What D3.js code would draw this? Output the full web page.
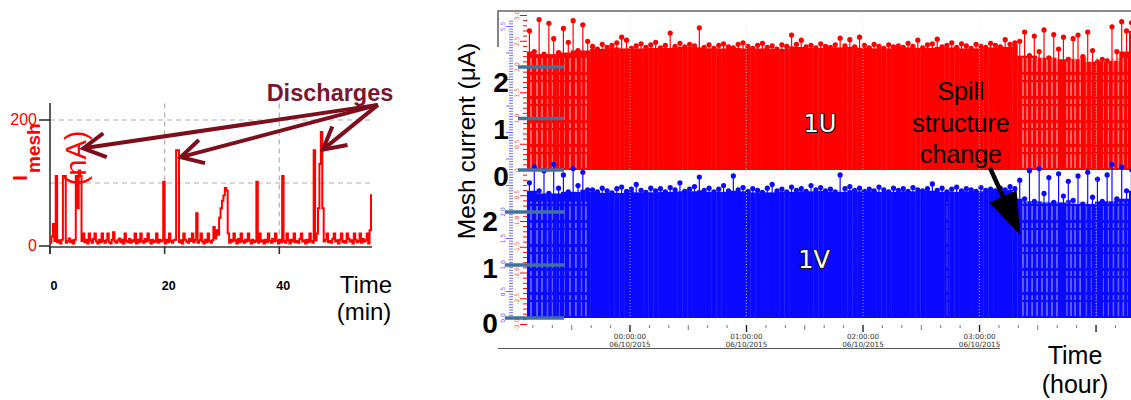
<!DOCTYPE html>
<html><head><meta charset="utf-8">
<script src="https://cdn.jsdelivr.net/npm/d3@7"></script>
<style>
body{margin:0;background:#fff;}
svg{display:block;font-family:"Liberation Sans",Arial,sans-serif;}
</style>
</head><body>
<svg id="c" width="1131" height="400"></svg>
<script>
// ---------------- DATA ----------------
// Left panel: mesh current (nA) sampled every 0.25 min, 0..56 min
const leftStepMin = 0.25;
const leftCurrent = [
  5,15,35,8,111,6,9,4,10,111,111,5,8,12,6,9,4,10,111,60,
  120,111,8,20,6,10,4,20,9,5,11,20,7,4,10,6,20,8,5,9,
  20,6,4,10,22,7,5,9,12,6,10,4,20,8,6,11,5,9,7,20,
  4,10,6,20,8,5,11,7,20,9,4,10,6,8,20,5,10,7,9,102,
  4,10,6,20,8,5,9,10,152,152,6,9,4,20,10,7,5,11,8,20,
  6,10,52,5,9,20,7,4,10,6,20,8,5,9,30,12,25,18,45,60,
  72,80,92,88,20,5,10,7,20,9,4,11,6,20,8,5,10,7,20,9,
  4,10,6,8,102,5,20,7,9,4,10,6,20,8,5,11,7,20,9,4,
  10,6,111,8,5,20,9,4,10,7,20,6,8,5,11,20,7,9,4,10,
  6,20,8,5,152,9,20,60,130,181,60,7,10,20,6,8,5,11,20,7,
  9,4,10,20,6,8,5,20,11,7,9,4,20,10,6,8,20,5,11,7,
  9,20,4,25,82
];
const leftXTicks = [0, 20, 40];
const leftYTicks = [0, 200];
const leftGridY = [100, 200];
const leftGridX = [20, 40];
// discharge arrows: [tipTime(min), tipValue(nA)]
const dischargeTips = [[5.8, 155], [22.8, 141], [47.6, 153]];
const dischargeFrom = [57.2, 224];

// Right panel: mesh currents (µA), one sample every 2.5 min starting 23:07 (−0.884 h)
const rightStartHour = -0.884;
const rightStepMin = 2.5;
const mesh1U = [
  2.70,2.30,2.92,2.25,2.85,2.55,2.28,2.75,2.48,2.90,2.32,2.82,2.50,
  2.40,2.35,2.44,2.38,2.42,2.47,2.58,2.52,2.36,2.41,2.45,2.38,2.43,2.48,2.37,2.42,
  2.66,2.40,2.46,2.39,2.44,2.41,2.76,2.38,2.43,2.36,2.42,2.45,2.39,2.37,2.44,2.47,
  2.40,2.36,2.42,2.46,2.38,2.41,2.35,2.43,2.40,2.62,2.44,2.52,2.39,2.42,2.37,2.45,
  2.40,2.38,2.43,2.56,2.41,2.53,2.39,2.58,2.42,2.37,2.44,2.40,2.36,2.43,2.39,2.41,
  2.38,2.46,2.40,2.52,2.37,2.43,2.45,2.54,2.39,2.42,2.47,2.38,2.45,2.41,2.36,2.44,
  2.40,2.38,2.46,2.42,2.39,2.53,2.44,2.47,
  2.50,2.68,2.22,2.60,2.30,2.72,2.18,2.63,2.35,2.58,2.15,2.55,2.62,2.20,2.68,2.32,
  2.10,2.15,2.12,2.78,2.30,2.88,2.70,2.86
];
const mesh1V = [
  2.55,2.85,2.40,2.78,2.35,2.90,2.45,2.70,2.38,2.82,2.50,2.75,2.42,
  2.42,2.38,2.45,2.40,2.36,2.44,2.47,2.39,2.43,2.52,2.41,2.37,2.45,2.40,2.44,2.38,
  2.46,2.42,2.55,2.39,2.43,2.48,2.66,2.41,2.45,2.38,2.43,2.50,2.40,2.68,2.42,2.46,
  2.39,2.44,2.41,2.37,2.45,2.52,2.40,2.43,2.38,2.47,2.41,2.44,2.39,2.50,2.42,2.46,
  2.40,2.43,2.38,2.70,2.44,2.48,2.41,2.45,2.39,2.43,2.40,2.47,2.42,2.38,2.45,2.41,
  2.44,2.39,2.46,2.42,2.40,2.44,2.53,2.41,2.45,2.38,2.43,2.47,2.40,2.44,2.42,2.39,
  2.46,2.41,2.43,2.40,2.45,2.42,2.48,2.44,
  2.60,2.25,2.78,2.20,2.82,2.35,2.65,2.18,2.72,2.30,2.58,2.22,2.68,2.15,2.75,2.28,
  2.62,2.20,2.70,2.90,2.25,2.85,2.40,2.80
];
// spill gaps (hours) seen as light stripes
const gapHours = [
  -0.850,-0.798,-0.755,-0.704,-0.661,-0.609,-0.567,-0.515,-0.464,-0.412,-0.378,
  3.373,3.408,3.451,3.494,3.536,3.579,3.622,3.665,3.751,3.785,3.820,3.863,
  3.923,3.966,4.009,4.060,4.103,4.146,4.189,4.232,4.266
];
const gapHours1V = [2.721];
const hourTicks = [0, 1, 2, 3];
const hourTickLabels = ["00:00:00", "01:00:00", "02:00:00", "03:00:00"];
const dateLabel = "06/10/2015";
const gridHours = [0, 1, 2, 3, 4];
const redAxisLabels = [3.0, 2.5, 2.0, 1.5, 1.0, 0.5, 0, -0.5, -1.0, -1.5, -2.0, -2.5, -3.0];
const blueAxisLabels = [5.5, 2.0, 1.5, 1.0, 0.5, 0.0];
const bigTicks = [2, 1, 0];
const bigTicksBaselineU = [92, 139, 186];
const bigTicksBaselineV = [231, 278, 333];

// ---------------- DRAW ----------------
const svg = d3.select("#c");
const RED = "#ff0000", BLUE = "#0a0aff", MAROON = "#7d0f1c";

// ===== Left panel =====
const xL = d3.scaleLinear().domain([0, 56]).range([50, 371]);
const yL = d3.scaleLinear().domain([0, 200]).range([246, 120]);
const L = svg.append("g");

// grid
L.selectAll(".gy").data(leftGridY).join("line")
  .attr("x1", xL(0)).attr("x2", xL(56)).attr("y1", d => yL(d)).attr("y2", d => yL(d))
  .attr("stroke", "#b0b0b0").attr("stroke-width", 1.2).attr("stroke-dasharray", "5,4");
L.selectAll(".gx").data(leftGridX).join("line")
  .attr("x1", d => xL(d)).attr("x2", d => xL(d)).attr("y1", yL(226)).attr("y2", yL(0))
  .attr("stroke", "#b0b0b0").attr("stroke-width", 1.2).attr("stroke-dasharray", "5,4");

// axes lines
L.append("line").attr("x1", xL(0)).attr("x2", xL(0)).attr("y1", yL(227)).attr("y2", 254)
  .attr("stroke", "#333").attr("stroke-width", 1.6);
L.append("line").attr("x1", xL(0) - 1).attr("x2", xL(56) + 1).attr("y1", yL(0) + 1).attr("y2", yL(0) + 1)
  .attr("stroke", "#333").attr("stroke-width", 1.6);
L.selectAll(".ty").data(leftYTicks).join("line")
  .attr("x1", xL(0) - 11).attr("x2", xL(0)).attr("y1", d => yL(d)).attr("y2", d => yL(d))
  .attr("stroke", "#333").attr("stroke-width", 1.6);
L.selectAll(".tx").data(leftXTicks).join("line")
  .attr("x1", d => xL(d)).attr("x2", d => xL(d)).attr("y1", yL(0)).attr("y2", yL(0) + 8)
  .attr("stroke", "#333").attr("stroke-width", 1.6);

// data line
const lineL = d3.line().x((d, i) => xL(i * leftStepMin)).y(d => yL(d)).curve(d3.curveStepAfter);
L.append("path").datum(leftCurrent).attr("d", lineL)
  .attr("fill", "none").attr("stroke", RED).attr("stroke-width", 2);

// tick labels
L.selectAll(".xl").data(leftXTicks).join("text")
  .attr("x", d => xL(d) + 4).attr("y", 290).attr("text-anchor", "middle")
  .attr("font-size", 12.5).attr("font-weight", "bold").attr("fill", "#000").text(d => d);
L.selectAll(".yl").data(leftYTicks).join("text")
  .attr("x", 37).attr("y", d => yL(d) + 5).attr("text-anchor", "end")
  .attr("font-size", 16).attr("fill", RED).text(d => d);

// y label I_mesh (nA)
L.append("text").attr("transform", "translate(27,181) rotate(-90)")
  .attr("font-size", 21).attr("font-weight", "bold").attr("fill", RED).text("I");
L.append("text").attr("transform", "translate(40,173) rotate(-90)")
  .attr("font-size", 19).attr("font-weight", "bold").attr("fill", RED).text("mesh");
L.append("text").attr("transform", "translate(86,158) rotate(-90)")
  .attr("text-anchor", "middle").attr("font-size", 29).attr("fill", RED).text("(nA)");

// Time (min)
L.append("text").attr("x", 366).attr("y", 293).attr("text-anchor", "middle")
  .attr("font-size", 24).attr("fill", "#000").text("Time");
L.append("text").attr("x", 364).attr("y", 320).attr("text-anchor", "middle")
  .attr("font-size", 24).attr("fill", "#000").text("(min)");

// Discharges
L.append("text").attr("x", 330).attr("y", 101).attr("text-anchor", "middle")
  .attr("font-size", 23.5).attr("font-weight", "bold").attr("fill", "#7a1730").text("Discharges");
const defs = svg.append("defs");
defs.append("marker").attr("id", "chev").attr("markerUnits", "userSpaceOnUse")
  .attr("viewBox", "-26 -14 30 28").attr("refX", 0).attr("refY", 0)
  .attr("markerWidth", 30).attr("markerHeight", 28).attr("orient", "auto")
  .append("path").attr("d", "M-22,-12 L0,0 L-22,12").attr("fill", "none")
  .attr("stroke", MAROON).attr("stroke-width", 4).attr("stroke-linejoin", "miter");
L.selectAll(".arr").data(dischargeTips).join("line")
  .attr("x1", xL(dischargeFrom[0])).attr("y1", yL(dischargeFrom[1]))
  .attr("x2", d => xL(d[0])).attr("y2", d => yL(d[1]))
  .attr("stroke", MAROON).attr("stroke-width", 4).attr("marker-end", "url(#chev)");

// ===== Right panel =====
const xR = d3.scaleLinear().domain([rightStartHour, 4.3]).range([527, 1131]);
const yU = d3.scaleLinear().domain([0, 2]).range([170, 67]);
const yV = d3.scaleLinear().domain([0, 2]).range([318, 212]);
const stepH = rightStepMin / 60;
const R = svg.append("g");
R.append("clipPath").attr("id", "rc").append("rect")
  .attr("x", 527).attr("y", 0).attr("width", 604).attr("height", 330);

// frame (top + left stub)
R.append("path").attr("d", "M498,47 L498,11 L1131,11").attr("fill", "none")
  .attr("stroke", "#666").attr("stroke-width", 1.6);

function drawSeries(values, yS, color, light, gaps) {
  const g = R.append("g").attr("clip-path", "url(#rc)");
  const pts = values.map((v, i) => {
    const lo = d3.min(values.slice(Math.max(0, i - 2), i + 3));
    return {t: rightStartHour + (i + 0.5) * stepH, v: v, lo: lo};
  });
  g.selectAll("rect").data(pts).join("rect")
    .attr("x", d => xR(d.t - stepH / 2)).attr("width", d => xR(d.t + stepH / 2) - xR(d.t - stepH / 2) + 0.4)
    .attr("y", d => yS(d.lo)).attr("height", d => yS(0) - yS(d.lo)).attr("fill", color);
  g.selectAll(".gap").data(gaps).join("line")
    .attr("x1", d => xR(d)).attr("x2", d => xR(d)).attr("y1", yS(0) - 2).attr("y2", yS(2.2))
    .attr("stroke", light).attr("stroke-width", 1.3).attr("stroke-dasharray", "14,2,5,3");
  g.selectAll(".stem").data(pts).join("line")
    .attr("x1", d => xR(d.t)).attr("x2", d => xR(d.t)).attr("y1", yS(0)).attr("y2", d => yS(d.v))
    .attr("stroke", color).attr("stroke-width", 1.2);
  g.selectAll("circle").data(pts).join("circle")
    .attr("cx", d => xR(d.t)).attr("cy", d => yS(d.v)).attr("r", 2.6).attr("fill", color);
}
drawSeries(mesh1U, yU, RED, "#ff9a9a", gapHours);
drawSeries(mesh1V, yV, BLUE, "#8484ff", gapHours.concat(gapHours1V));

// dotted hour grid
R.selectAll(".hg").data(gridHours).join("line")
  .attr("x1", d => xR(d)).attr("x2", d => xR(d)).attr("y1", 12).attr("y2", yV(0))
  .attr("stroke", "#e6e6e6").attr("stroke-opacity", 0.7).attr("stroke-width", 1).attr("stroke-dasharray", "1,2");

// time axis ticks (every 10 min)
const minorTicks = d3.range(-5, 26).map(k => k / 6);
R.selectAll(".mt").data(minorTicks).join("line")
  .attr("x1", d => xR(d)).attr("x2", d => xR(d))
  .attr("y1", 325).attr("y2", (d, i) => ((i - 5) % 6 === 0 ? 332 : (i - 5) % 3 === 0 ? 330 : 328))
  .attr("stroke", (d, i) => ((i - 5) % 6 === 0 ? "#222" : "#777"))
  .attr("stroke-width", (d, i) => ((i - 5) % 6 === 0 ? 1.4 : 1));
R.selectAll(".hl").data(hourTicks).join("text")
  .attr("x", d => xR(d)).attr("y", 338.5).attr("text-anchor", "middle")
  .attr("font-family", "DejaVu Sans").attr("font-size", 7.2).attr("fill", "#333")
  .text((d, i) => hourTickLabels[i]);
R.selectAll(".dl").data(hourTicks).join("text")
  .attr("x", d => xR(d)).attr("y", 346.5).attr("text-anchor", "middle")
  .attr("font-family", "DejaVu Sans").attr("font-size", 7.2).attr("fill", "#333")
  .text(dateLabel);
R.append("line").attr("x1", 498).attr("x2", 1000).attr("y1", 348.5).attr("y2", 348.5)
  .attr("stroke", "#555").attr("stroke-width", 1.2);

// small red axis (1U, -3..3)
const redMinor = d3.range(-30, 31).map(k => k / 10);
R.selectAll(".rt").data(redMinor).join("line")
  .attr("x1", (d, i) => (i % 5 === 0 ? 520 : 523)).attr("x2", 527)
  .attr("y1", d => yU(d)).attr("y2", d => yU(d))
  .attr("stroke", RED).attr("stroke-width", 1);
R.selectAll(".rl").data(redAxisLabels).join("text")
  .attr("transform", d => `translate(519,${yU(d)}) rotate(-90)`)
  .attr("text-anchor", "middle").attr("font-size", 6).attr("font-family", "DejaVu Sans")
  .attr("fill", "#ff4d4d").text(d => (d === 0 ? "0" : d.toFixed(1)));
// small blue axis (1V, 0..5.5)
const blueMinor = d3.range(0, 113).map(k => k / 20);
R.selectAll(".bt").data(blueMinor).join("line")
  .attr("x1", (d, i) => (i % 10 === 0 ? 506 : 509)).attr("x2", 513)
  .attr("y1", d => yV(d)).attr("y2", d => yV(d))
  .attr("stroke", "#4a4aff").attr("stroke-width", 0.8);
R.selectAll(".bl").data(blueAxisLabels).join("text")
  .attr("transform", d => `translate(505,${yV(d)}) rotate(-90)`)
  .attr("text-anchor", "middle").attr("font-size", 6).attr("font-family", "DejaVu Sans")
  .attr("fill", "#5555ff").text(d => d.toFixed(1));

// big overlay ticks
R.selectAll(".bu").data(bigTicks).join("line")
  .attr("x1", 518).attr("x2", 564).attr("y1", d => yU(d)).attr("y2", d => yU(d))
  .attr("stroke", "#41719c").attr("stroke-width", 3.5);
R.selectAll(".bv").data(bigTicks).join("line")
  .attr("x1", 505).attr("x2", 564).attr("y1", d => yV(d)).attr("y2", d => yV(d))
  .attr("stroke", "#41719c").attr("stroke-width", 3.5);
R.selectAll(".bul").data(bigTicks).join("text")
  .attr("x", 501).attr("y", (d, i) => bigTicksBaselineU[i]).attr("text-anchor", "middle")
  .attr("font-size", 28).attr("font-weight", "bold").attr("fill", "#000").text(d => d);
R.selectAll(".bvl").data(bigTicks).join("text")
  .attr("x", 490).attr("y", (d, i) => bigTicksBaselineV[i]).attr("text-anchor", "middle")
  .attr("font-size", 28).attr("font-weight", "bold").attr("fill", "#000").text(d => d);

// Y title
R.append("text").attr("transform", "translate(475,141) rotate(-90)")
  .attr("text-anchor", "middle").attr("font-size", 24.5).attr("fill", "#000").text("Mesh current (μA)");

// series labels
R.append("text").attr("x", xR(1.63)).attr("y", 132).attr("text-anchor", "middle")
  .attr("font-family", "DejaVu Sans").attr("font-size", 24).attr("fill", "#fff")
  .attr("stroke", "#111").attr("stroke-width", 2.2).attr("paint-order", "stroke").text("1U");
R.append("text").attr("x", xR(1.58)).attr("y", 268).attr("text-anchor", "middle")
  .attr("font-family", "DejaVu Sans").attr("font-size", 24).attr("fill", "#fff")
  .attr("stroke", "#111").attr("stroke-width", 2.2).attr("paint-order", "stroke").text("1V");

// Spill structure change
["Spill", "structure", "change"].forEach((s, i) => {
  R.append("text").attr("x", 961).attr("y", 100 + i * 31.5).attr("text-anchor", "middle")
    .attr("font-size", 25).attr("fill", "#000").text(s);
});
const a0 = [xR(3.09), yU(0.04)], a1 = [xR(3.35), yV(1.57)];
const ang = Math.atan2(a1[1] - a0[1], a1[0] - a0[0]);
const hl = 42, hw = 15;
const bx = a1[0] - hl * Math.cos(ang), by = a1[1] - hl * Math.sin(ang);
R.append("line").attr("x1", a0[0]).attr("y1", a0[1]).attr("x2", bx).attr("y2", by)
  .attr("stroke", "#000").attr("stroke-width", 4.5);
R.append("path").attr("d", d3.line()([
  a1,
  [bx + hw * Math.sin(ang), by - hw * Math.cos(ang)],
  [bx - hw * Math.sin(ang), by + hw * Math.cos(ang)]
]) + "Z").attr("fill", "#000");

// Time (hour)
R.append("text").attr("x", 1075).attr("y", 364).attr("text-anchor", "middle")
  .attr("font-size", 25).attr("fill", "#000").text("Time");
R.append("text").attr("x", 1075).attr("y", 393).attr("text-anchor", "middle")
  .attr("font-size", 25).attr("fill", "#000").text("(hour)");
</script>
</body></html>
